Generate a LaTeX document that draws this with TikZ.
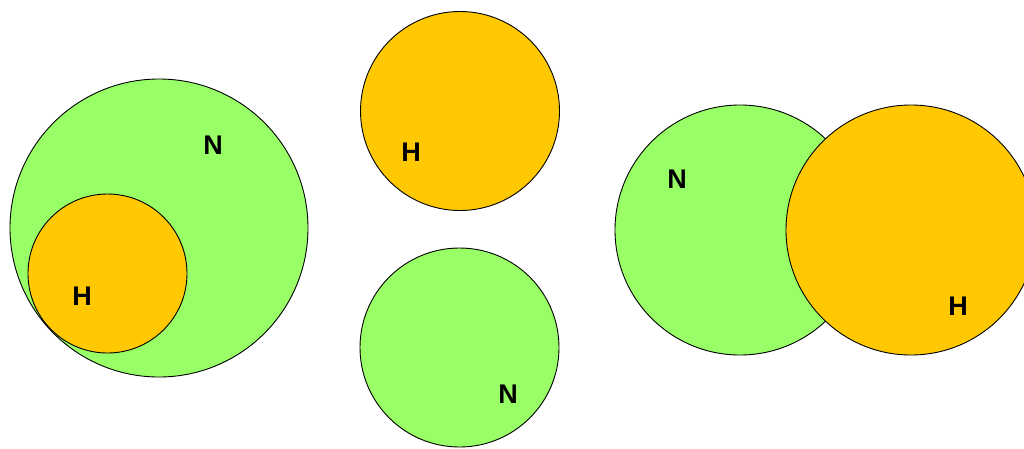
\documentclass[tikz,border=0pt]{standalone}
\usepackage{fontspec}
\setmainfont{Liberation Sans}
\definecolor{ngreen}{HTML}{99FF66}
\definecolor{horange}{HTML}{FFC800}
\begin{document}
\begin{tikzpicture}[x=1pt,y=-1pt,
  setcircle/.style={circle,draw=black,line width=0.9pt,inner sep=0pt,outer sep=0pt},
  nset/.style={setcircle,fill=ngreen},
  hset/.style={setcircle,fill=horange},
  lbl/.style={font=\fontsize{27}{32}\selectfont\bfseries,inner sep=0pt}]
\useasboundingbox (0,0) rectangle (1024,448);
\begin{scope}
\clip (0,0) rectangle (1024,448);
% left: H inside N
\node[nset,minimum size=298pt] (n1) at (159,228) {};
\node[hset,minimum size=159pt] (h1) at (107.5,273.5) {};
\node[lbl] (ln1) at (213,145) {N};
\node[lbl] (lh1) at (82,296) {H};
% middle: disjoint
\node[hset,minimum size=199pt] (h2) at (460,111) {};
\node[lbl] (lh2) at (411,152) {H};
\node[nset,minimum size=199pt] (n2) at (459.5,347.5) {};
\node[lbl] (ln2) at (508,394) {N};
% right: overlapping
\node[nset,minimum size=250pt] (n3) at (740,230) {};
\node[hset,minimum size=250pt] (h3) at (911,230) {};
\node[lbl] (ln3) at (677,179) {N};
\node[lbl] (lh3) at (958,306.5) {H};
\end{scope}
\end{tikzpicture}
\end{document}
